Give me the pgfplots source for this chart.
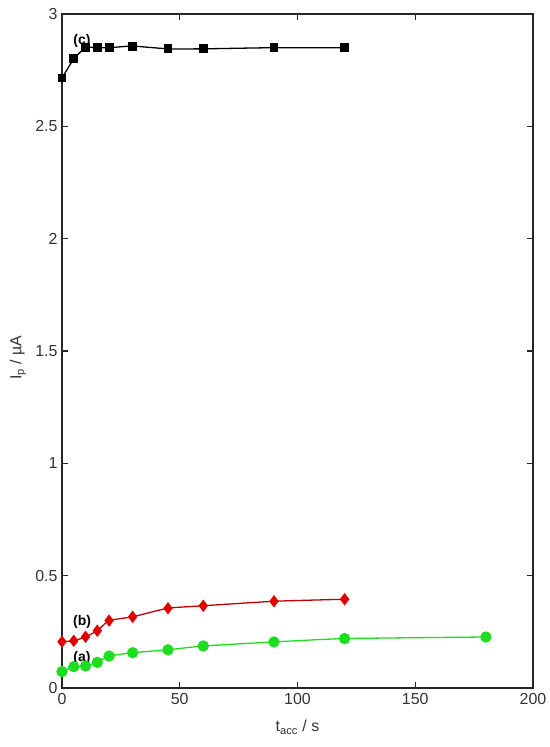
\documentclass[border=0pt]{standalone}
\usepackage{pgfplots}
\pgfplotsset{compat=1.18}
\usepackage{fontspec}
\setmainfont{Liberation Sans}
\definecolor{cgreen}{RGB}{30,220,30}
\definecolor{cred}{RGB}{225,0,0}

\begin{document}
\begin{tikzpicture}
\begin{axis}[
  scale only axis,
  width=471bp, height=674bp,
  xmin=0, xmax=200, ymin=0, ymax=3,
  xtick={0,50,100,150,200},
  ytick={0,0.5,1,1.5,2,2.5,3},
  yticklabels={0,0.5,1,1.5,2,2.5,3},
  tick align=inside,
  major tick length=6bp,
  axis line style={line width=1.2pt, black!85},
  every tick/.style={line width=1.2pt, black!85},
  tick label style={font=\fontsize{16}{19}\selectfont, text=black!80},
  /pgf/number format/assume math mode=true,
  xticklabel style={yshift=-2bp},
  yticklabel style={xshift=-1bp},
  every axis x label/.style={at={(axis description cs:0.5,0)}, anchor=center, yshift=-39bp},
  every axis y label/.style={at={(axis description cs:-0.0934,0.49)}, anchor=center, rotate=90},
  label style={font=\fontsize{16}{19}\selectfont, text=black!80},
  xlabel={t\textsubscript{acc} / s},
  ylabel={I\textsubscript{p} / \textmu A},
  clip=false,
]
% (c)
\addplot[black, line width=1.3pt, smooth, tension=0.3, mark=square*, mark size=3.8bp, mark options={solid}]
  coordinates {(0,2.715) (5,2.80) (10,2.85) (15,2.85) (20,2.85) (30,2.857) (45,2.845) (60,2.845) (90,2.85) (120,2.85)};
% (b)
\addplot[cred!85!black, line width=1.3pt, smooth, tension=0.3, mark=diamond*, mark size=5.2bp, mark options={fill=cred, draw=cred}]
  coordinates {(0,0.206) (5,0.21) (10,0.228) (15,0.255) (20,0.30) (30,0.317) (45,0.355) (60,0.366) (90,0.386) (120,0.395)};
% (a)
\addplot[cgreen, line width=1.3pt, smooth, tension=0.3, mark=*, mark size=5bp, mark options={fill=cgreen, draw=cgreen}]
  coordinates {(0,0.073) (5,0.095) (10,0.098) (15,0.114) (20,0.142) (30,0.157) (45,0.17) (60,0.187) (90,0.205) (120,0.22) (180,0.227)};

\node[font=\fontsize{14}{16}\selectfont\bfseries] at (axis cs:8.5,2.88) {(c)};
\node[font=\fontsize{14}{16}\selectfont\bfseries] at (axis cs:8.5,0.295) {(b)};
\node[font=\fontsize{14}{16}\selectfont\bfseries] at (axis cs:8.5,0.132) {(a)};
\end{axis}
\pgfresetboundingbox
\path (-62bp,-59bp) rectangle (488bp,688bp);
\end{tikzpicture}
\end{document}
